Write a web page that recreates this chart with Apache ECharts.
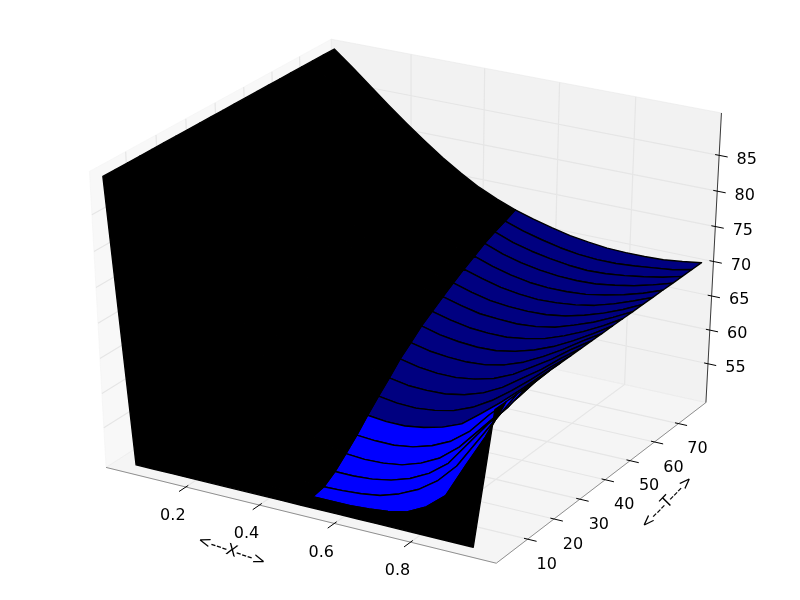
<!DOCTYPE html>
<html>
<head>
<meta charset="utf-8">
<style>
html, body { margin: 0; padding: 0; background: #fff; }
#chart { width: 800px; height: 600px; }
</style>
<script src="https://cdn.jsdelivr.net/npm/echarts@6/dist/echarts.min.js"></script>
</head>
<body>
<div id="chart"></div>
<script>
const xValues = [0, 0.05, 0.1, 0.15, 0.2, 0.25, 0.3, 0.35, 0.4, 0.45, 0.5, 0.55, 0.6, 0.65, 0.7, 0.75, 0.8, 0.85, 0.9, 0.95, 1]
const tValues = [0, 4, 8, 12, 16, 20, 24, 28, 32, 36, 40, 44, 48, 52, 56, 60, 64, 68, 72, 76, 80]
// one row per T, one column per X
const zValues = [
  [90, 50, 50, 50, 50, 50, 50, 50, 50, 50, 50, 50, 50, 50, 50, 50, 50, 50, 50, 50, 70],
  [90, 77, 66, 58, 54, 52, 51, 50.5, 50.2, 50.1, 50.1, 50.1, 50.1, 50.3, 50.6, 51.2, 52.6, 54.9, 59.8, 64.5, 70],
  [90, 80, 71, 64, 59, 55.5, 53, 51.8, 51, 50.6, 50.4, 50.5, 50.7, 51.1, 52, 53.3, 55.2, 58, 62, 66, 70],
  [90, 82, 74, 67, 62, 58, 55.5, 53.8, 52.6, 51.9, 51.5, 51.5, 51.7, 52.2, 53.1, 54.5, 56.6, 60, 63.4, 66.4, 70],
  [90, 83, 76, 70, 64.5, 60.5, 57.8, 55.8, 54.5, 53.5, 53, 52.8, 52.9, 53.3, 54.2, 55.6, 57.8, 60.8, 63.8, 66.8, 70],
  [90, 84, 77.5, 72, 67, 63, 60, 58, 56.4, 55.3, 54.6, 54.4, 54.4, 54.8, 55.6, 56.9, 59, 62, 64.6, 67.2, 70],
  [90, 84.5, 79, 74, 69, 65.2, 62.2, 60, 58.3, 57.1, 56.4, 56.1, 56.1, 56.5, 57.2, 58.3, 60.4, 62.6, 65, 67.5, 70],
  [90, 85, 80, 75.3, 70.8, 67, 64.2, 61.9, 60.1, 58.9, 58.1, 57.7, 57.6, 57.9, 58.5, 59.6, 61.2, 63.2, 65.4, 67.8, 70],
  [90, 85.5, 81, 76.5, 72.2, 68.7, 65.8, 63.5, 61.7, 60.5, 59.7, 59.2, 59.1, 59.2, 59.7, 60.6, 62, 63.9, 65.8, 68, 70],
  [90, 86, 81.8, 77.5, 73.6, 70.2, 67.4, 65.1, 63.3, 62.2, 61.4, 60.8, 60.5, 60.5, 60.9, 61.6, 62.8, 64.5, 66.2, 68.2, 70],
  [90, 86.3, 82.4, 78.4, 74.8, 71.6, 68.8, 66.5, 64.7, 63.5, 62.7, 62.1, 61.8, 61.7, 61.9, 62.5, 63.5, 64.9, 66.5, 68.3, 70],
  [90, 86.6, 83, 79.2, 75.8, 72.7, 70, 67.8, 66, 64.9, 64.1, 63.4, 63, 62.8, 62.9, 63.4, 64.2, 65.3, 66.7, 68.3, 70],
  [90, 87, 83.4, 80, 76.7, 73.7, 71, 68.9, 67.1, 65.9, 65.2, 64.5, 64, 63.8, 63.8, 64.2, 64.8, 65.8, 67, 68.4, 70],
  [90, 87, 83.8, 80.5, 77.4, 74.5, 71.9, 69.8, 68.1, 67, 66.3, 65.6, 65, 64.8, 64.7, 64.9, 65.4, 66.3, 67.3, 68.6, 70],
  [90, 87.1, 84.2, 81, 78, 75.3, 72.8, 70.7, 69, 67.9, 67.3, 66.5, 65.9, 65.6, 65.5, 65.6, 66, 66.7, 67.6, 68.7, 70],
  [90, 87.2, 84.5, 81.5, 78.6, 76, 73.6, 71.5, 69.9, 69, 68.3, 67.5, 66.8, 66.4, 66.2, 66.3, 66.6, 67.1, 67.9, 68.9, 70],
  [90, 87.3, 84.7, 81.9, 79.1, 76.6, 74.3, 72.4, 70.8, 69.9, 69.2, 68.3, 67.6, 67.1, 66.9, 66.9, 67.1, 67.6, 68.2, 69, 70],
  [90, 87.4, 84.9, 82.3, 79.7, 77.2, 75, 73.2, 71.6, 70.8, 70.1, 69.1, 68.4, 67.9, 67.6, 67.5, 67.6, 68, 68.5, 69.2, 70],
  [90, 87.5, 85.1, 82.7, 80.2, 77.9, 75.7, 73.9, 72.4, 71.5, 70.8, 69.8, 69.1, 68.6, 68.2, 68, 68.1, 68.4, 68.8, 69.3, 70],
  [90, 87.7, 85.4, 83.1, 80.9, 78.7, 76.6, 74.7, 73.1, 72.1, 71.4, 70.5, 69.8, 69.2, 68.8, 68.6, 68.6, 68.8, 69.1, 69.4, 70],
  [90, 87.9, 85.7, 83.5, 81.4, 79.4, 77.5, 75.8, 74.3, 73.1, 72.1, 71.3, 70.6, 70, 69.6, 69.3, 69.2, 69.2, 69.3, 69.6, 70]
]

const xTicks = [0.2, 0.4, 0.6, 0.8]
const tTicks = [10, 20, 30, 40, 50, 60, 70]
const zTicks = [55, 60, 65, 70, 75, 80, 85]
const xLim = [0, 1]
const tLim = [0, 80]
const zLim = [50, 90]

// the black part of the mesh stops at this column, the last strip is all black
const meshEnd = xValues.indexOf(0.5)
const brightFrom = tValues.indexOf(4)
const brightTo = tValues.indexOf(24)

const FONT = '"DejaVu Sans"'
const DIST = 10
const elev = 30 * Math.PI / 180
const azim = -60 * Math.PI / 180
const n = [Math.cos(elev) * Math.cos(azim), Math.cos(elev) * Math.sin(azim), Math.sin(elev)]
const u = [-Math.sin(azim), Math.cos(azim), 0]
const v = [-Math.sin(elev) * Math.cos(azim), -Math.sin(elev) * Math.sin(azim), Math.cos(elev)]

// box walls stick out 1/48 of the range on each side of the limits
const pad = lim => (lim[1] - lim[0]) / 48
const x0 = xLim[0] - pad(xLim)
const x1 = xLim[1] + pad(xLim)
const t0 = tLim[0] - pad(tLim)
const t1 = tLim[1] + pad(tLim)
const z0 = zLim[0] - pad(zLim)
const z1 = zLim[1] + pad(zLim)

function project(x, t, z) {
  const q = [
    (x - xLim[0]) / (xLim[1] - xLim[0]) - 0.5,
    (t - tLim[0]) / (tLim[1] - tLim[0]) - 0.5,
    (z - zLim[0]) / (zLim[1] - zLim[0]) - 0.5
  ]
  const dot = a => a[0] * q[0] + a[1] * q[1] + a[2] * q[2]
  const d = DIST - dot(n)
  return [dot(u) / d, dot(v) / d]
}

const walls = [
  { fill: 'rgba(242,242,242,0.5)', pts: [[x0, t0, z0], [x0, t1, z0], [x0, t1, z1], [x0, t0, z1]] },
  { fill: 'rgba(230,230,230,0.5)', pts: [[x0, t1, z0], [x1, t1, z0], [x1, t1, z1], [x0, t1, z1]] },
  { fill: 'rgba(236,236,236,0.5)', pts: [[x0, t0, z0], [x1, t0, z0], [x1, t1, z0], [x0, t1, z0]] }
]

const gridLines = []
xTicks.forEach(x => gridLines.push([[x, t0, z0], [x, t1, z0], [x, t1, z1]]))
tTicks.forEach(t => gridLines.push([[x1, t, z0], [x0, t, z0], [x0, t, z1]]))
zTicks.forEach(z => gridLines.push([[x0, t0, z], [x0, t1, z], [x1, t1, z]]))

const axisLines = [
  { color: '#8f8f8f', pts: [[x0, t0, z0], [x1, t0, z0]] },
  { color: '#8f8f8f', pts: [[x1, t0, z0], [x1, t1, z0]] },
  { color: '#3a3a3a', pts: [[x1, t1, z0], [x1, t1, z1]] }
]

const xSpan = x1 - x0
const tSpan = t1 - t0
const tickLines = []
xTicks.forEach(x => tickLines.push([[x, t0 + 0.01 * tSpan, z0], [x, t0 - 0.028 * tSpan, z0]]))
tTicks.forEach(t => tickLines.push([[x1 - 0.009 * xSpan, t, z0], [x1 + 0.022 * xSpan, t, z0]]))
zTicks.forEach(z => tickLines.push([[x1 - 0.01 * xSpan, t1, z], [x1 + 0.021 * xSpan, t1, z]]))

const labels = []
xTicks.forEach(x => labels.push({ text: x.toFixed(1), at: [x, t0, z0], dx: -13, dy: 29 }))
tTicks.forEach(t => labels.push({ text: String(t), at: [x1, t, z0], dx: 19, dy: 25.5 }))
zTicks.forEach(z => labels.push({ text: String(z), at: [x1, t1, z], dx: 27.5, dy: 4.2 }))
labels.push({ text: '<---X--->', at: [0.5, t0, z0], dx: -65.2, dy: 37.2, rotate: -18.9 })
labels.push({ text: '<---T--->', at: [x1, 40, z0], dx: 62.2, dy: 22.8, rotate: 45.6 })

// back to front: the T = 80 strip first, the T = 0 strip last
const strips = []
for (let i = tValues.length - 2; i >= 0; i--) {
  let color = '#000080'
  if (i >= brightFrom && i < brightTo) color = '#0000ff'
  if (i === 0) color = '#000'
  strips.push({ row: i, from: meshEnd, to: xValues.length - 1, color })
  strips.push({ row: i, from: 0, to: meshEnd, color: '#000' })
}

function stripPoints(s) {
  const pts = []
  for (let j = s.from; j <= s.to; j++) pts.push(project(xValues[j], tValues[s.row], zValues[s.row][j]))
  for (let j = s.to; j >= s.from; j--) pts.push(project(xValues[j], tValues[s.row + 1], zValues[s.row + 1][j]))
  return pts
}

function layer(items, draw) {
  return {
    type: 'custom',
    coordinateSystem: 'cartesian2d',
    silent: true,
    clip: false,
    data: items.map((d, i) => [i, 0]),
    renderItem: (params, api) => draw(items[params.dataIndex], api)
  }
}

const toPixels = (pts, api) => pts.map(p => api.coord(p))
const line3d = (pts, api, color, lineWidth) => ({
  type: 'polyline',
  shape: { points: toPixels(pts.map(p => project(p[0], p[1], p[2])), api) },
  style: { fill: 'none', stroke: color, lineWidth }
})

const chart = echarts.init(document.getElementById('chart'), null, { renderer: 'canvas' })
chart.setOption({
  animation: false,
  tooltip: { show: false },
  grid: { left: 0, right: 0, top: 0, bottom: 0 },
  xAxis: { type: 'value', min: -0.095, max: 0.09, show: false },
  yAxis: { type: 'value', min: -0.095, max: 0.09, show: false },
  series: [
    layer(walls, (w, api) => ({
      type: 'polygon',
      shape: { points: toPixels(w.pts.map(p => project(p[0], p[1], p[2])), api) },
      style: { fill: w.fill, stroke: w.fill, lineWidth: 1 }
    })),
    layer(gridLines, (g, api) => line3d(g, api, '#e6e6e6', 1.2)),
    layer(axisLines, (a, api) => line3d(a.pts, api, a.color, 1)),
    layer(tickLines, (t, api) => line3d(t, api, '#000', 1)),
    layer(strips, (s, api) => ({
      type: 'polygon',
      shape: { points: toPixels(stripPoints(s), api) },
      style: { fill: s.color, stroke: '#000', lineWidth: 1.4, lineJoin: 'round' }
    })),
    layer(labels, (l, api) => {
      const p = api.coord(project(l.at[0], l.at[1], l.at[2]))
      return {
        type: 'text',
        x: p[0] + l.dx,
        y: p[1] + l.dy,
        rotation: (l.rotate || 0) * Math.PI / 180,
        style: {
          text: l.text,
          fill: '#000',
          font: '16px ' + FONT,
          align: 'center',
          verticalAlign: 'middle'
        }
      }
    })
  ]
})
</script>
</body>
</html>
